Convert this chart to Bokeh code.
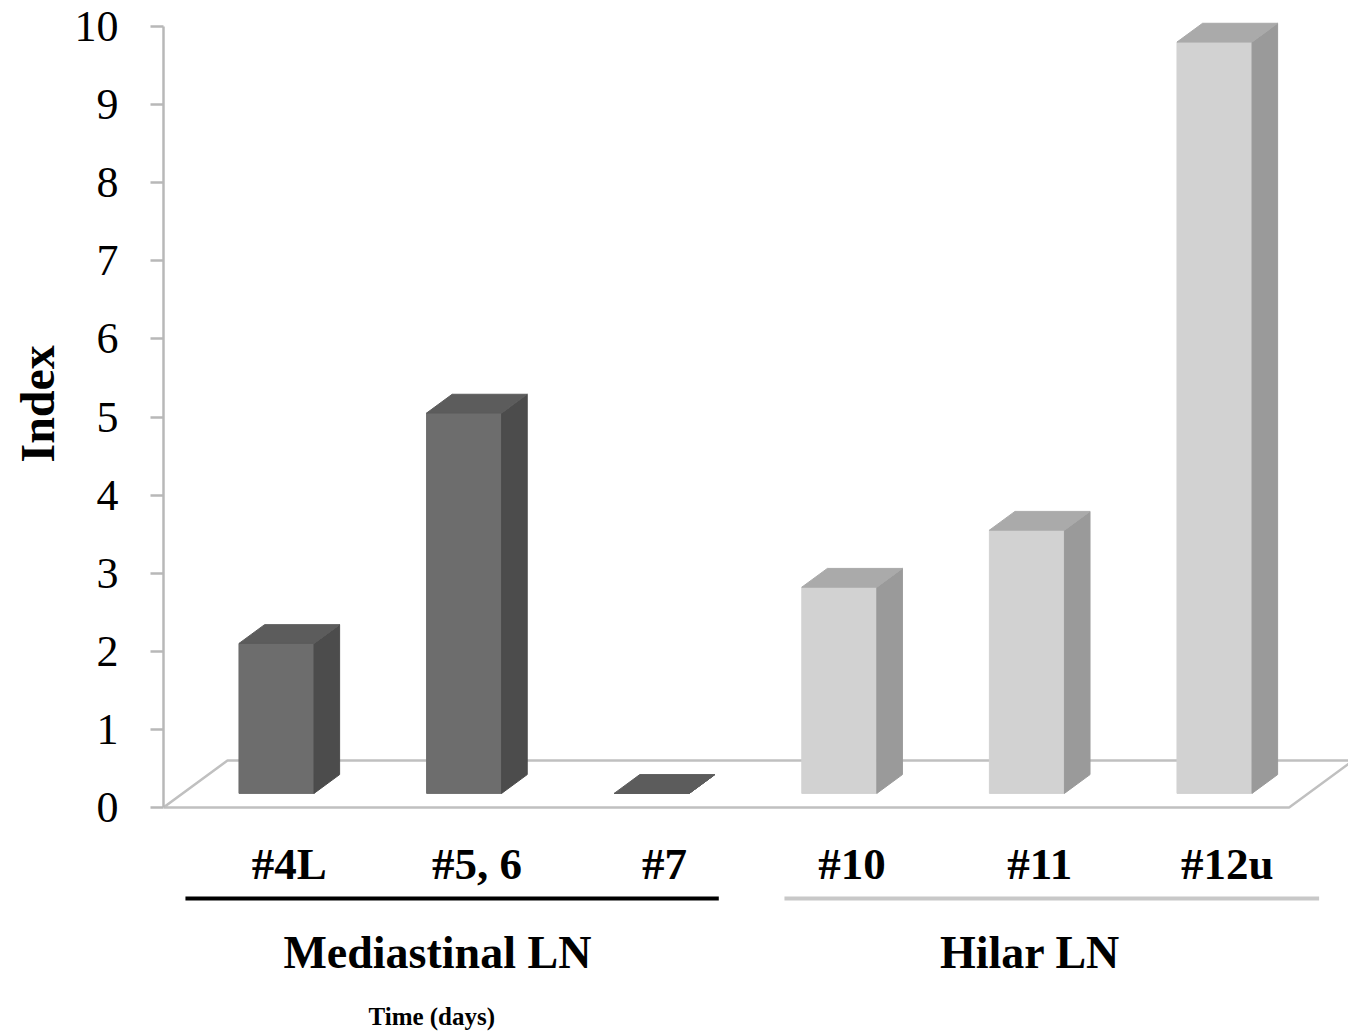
import numpy as np
from bokeh.plotting import figure
from bokeh.models import ColumnDataSource, FixedTicker, Range1d, Title
from bokeh.core.properties import value
from bokeh.embed import file_html
from bokeh.resources import INLINE

# ---------------- data ----------------
categories = ["#4L", "#5, 6", "#7", "#10", "#11", "#12u"]
index_values = [1.92, 4.87, 0.0, 2.64, 3.37, 9.62]
group_of = [0, 0, 0, 1, 1, 1]
groups = ["Mediastinal LN", "Hilar  LN"]
y_ticks = [0, 1, 2, 3, 4, 5, 6, 7, 8, 9, 10]
y_title = "Index"
x_title = "Time (days)"

# ---------------- styling ----------------
front_colors = ["#6d6d6d", "#d2d2d2"]
top_colors = ["#5c5c5c", "#aaaaaa"]
side_colors = ["#4c4c4c", "#9a9a9a"]
group_line_colors = ["#000000", "#c8c8c8"]
FLOOR_COLOR = "#c0c0c0"
SERIF = "Liberation Serif"

W, H = 1348, 1031
LEFT = 163          # canvas px of frame left (the value axis)
Y0 = 807            # canvas px of value 0
PX_U = 187.6        # px per category
PX_V = 78.1         # px per value unit

DX = 64 / PX_U      # depth of floor along x (category units)
DY = 47 / PX_V      # depth of floor along y (value units)
F1, F2 = 0.3, 0.7   # bar front / back depth fractions
HALF_W = 0.2        # bar half width (category units)

n = len(categories)
x_end = (W - LEFT) / PX_U
y_end = Y0 / PX_V
y_start = -(H - Y0) / PX_V


def vy(page_y):
    return (Y0 - page_y) / PX_V


p = figure(width=W, height=H, output_backend="svg", toolbar_location=None,
           x_range=Range1d(0, x_end), y_range=Range1d(y_start, y_end),
           x_axis_location=None, y_axis_location="left",
           min_border_left=LEFT, min_border_right=0, min_border_top=0,
           min_border_bottom=0, background_fill_color="white",
           border_fill_color="white", outline_line_color=None)
p.grid.visible = False

ax = p.yaxis[0]
ax.ticker = FixedTicker(ticks=y_ticks)
ax.bounds = (0, 10)
ax.axis_line_color = "#b8b8b8"
ax.axis_line_width = 2.5
ax.major_tick_line_color = "#b8b8b8"
ax.major_tick_line_width = 2.5
ax.major_tick_out = 13
ax.major_tick_in = 0
ax.minor_tick_line_color = None
ax.major_label_standoff = 32
ax.major_label_text_font = SERIF
ax.major_label_text_font_size = "44px"
ax.major_label_text_color = "#000000"

# y title as a side title so it can be placed along the axis
p.add_layout(Title(text=y_title, align="left", offset=569, standoff=16,
                   text_font=SERIF, text_font_style="bold",
                   text_font_size="48px", text_color="#000000"), "left")

# ---------------- floor ----------------
p.line([0, n, n + DX, DX, 0], [0, 0, DY, DY, 0], line_color=FLOOR_COLOR,
       line_width=2.5)

# ---------------- bars ----------------
vals = np.array(index_values, dtype=float)
cen = np.arange(n) + 0.5
xl = cen - HALF_W
xr = cen + HALF_W

front_xs, front_ys, side_xs, side_ys, top_xs, top_ys = [], [], [], [], [], []
a1, a2 = F1 * DX, F2 * DX
b1, b2 = F1 * DY, F2 * DY
for i in range(n):
    v = vals[i]
    front_xs.append([xl[i] + a1, xr[i] + a1, xr[i] + a1, xl[i] + a1])
    front_ys.append([b1, b1, v + b1, v + b1])
    side_xs.append([xr[i] + a1, xr[i] + a2, xr[i] + a2, xr[i] + a1])
    side_ys.append([b1, b2, v + b2, v + b1])
    top_xs.append([xl[i] + a1, xr[i] + a1, xr[i] + a2, xl[i] + a2])
    top_ys.append([v + b1, v + b1, v + b2, v + b2])

fc = [front_colors[g] for g in group_of]
sc = [side_colors[g] for g in group_of]
tc = [top_colors[g] for g in group_of]

p.patches(xs=front_xs, ys=front_ys, fill_color=fc, line_color=fc, line_width=1)
p.patches(xs=side_xs, ys=side_ys, fill_color=sc, line_color=sc, line_width=1)
p.patches(xs=top_xs, ys=top_ys, fill_color=tc, line_color=tc, line_width=1)

# ---------------- category labels ----------------
lab_src = ColumnDataSource(dict(x=cen + 0.5 * DX, y=[vy(863)] * n,
                                text=categories))
p.text(x="x", y="y", text="text", source=lab_src, text_font=value(SERIF),
       text_font_style="bold", text_font_size="45px", text_align="center",
       text_baseline="alphabetic", text_color="#000000")

# ---------------- group lines & labels ----------------
line_y = vy(898)
g_x0 = [0.117, 3.31]
g_x1 = [2.96, 6.16]
p.segment(x0=g_x0, y0=[line_y] * 2, x1=g_x1, y1=[line_y] * 2,
          line_color=group_line_colors, line_width=4)

g_src = ColumnDataSource(dict(x=[1.46, 4.65], y=[vy(952)] * 2, text=groups))
p.text(x="x", y="y", text="text", source=g_src, text_font=value(SERIF),
       text_font_style="bold", text_font_size="46px", text_align="center",
       text_baseline="alphabetic", text_color="#000000")

p.text(x=[1.43], y=[vy(1016)], text=[x_title],
       text_font=value(SERIF), text_font_style="bold", text_font_size="25px",
       text_align="center", text_baseline="alphabetic", text_color="#000000")

open("out.html", "w").write(file_html(p, INLINE))
